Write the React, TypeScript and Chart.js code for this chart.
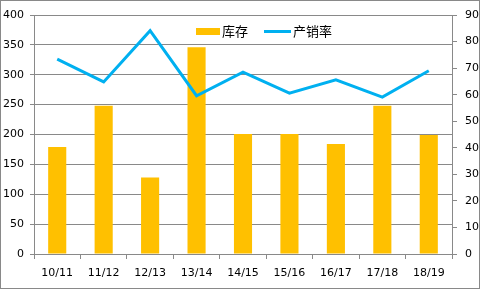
import React, { useEffect, useRef } from "react";
import { Chart, registerables } from "chart.js";

Chart.register(...registerables);

const categories = ["10/11", "11/12", "12/13", "13/14", "14/15", "15/16", "16/17", "17/18", "18/19"];
const inventory = [179, 248, 128, 346, 201, 201, 184, 248, 199];
const salesRate = [73.4, 64.8, 84.1, 59.6, 68.5, 60.6, 65.6, 59.1, 69.0];
const leftTicks = [0, 50, 100, 150, 200, 250, 300, 350, 400];
const rightTicks = [0, 10, 20, 30, 40, 50, 60, 70, 80, 90];

const BAR_COLOR = "#FFC000";
const LINE_COLOR = "#00B0F0";
const GRID = "#898989";
const FONT = "'DejaVu Sans', Verdana, sans-serif";

const overlayPlugin = {
  id: "overlay",
  afterDraw(chart: any) {
    const ctx = chart.ctx as CanvasRenderingContext2D;
    ctx.save();
    // outer border
    ctx.strokeStyle = GRID;
    ctx.lineWidth = 1;
    ctx.strokeRect(0.5, 0.5, 479, 288);
    // legend
    const y = 31;
    ctx.fillStyle = BAR_COLOR;
    ctx.fillRect(196, 28, 24, 7);
    ctx.fillStyle = "#000";
    ctx.font = "13px 'Noto Sans CJK SC', sans-serif";
    ctx.textBaseline = "middle";
    ctx.textAlign = "left";
    ctx.fillText(chart.data.datasets[1].label, 222, y);
    ctx.strokeStyle = LINE_COLOR;
    ctx.lineWidth = 3;
    ctx.beginPath();
    ctx.moveTo(264, y + 0.5);
    ctx.lineTo(291, y + 0.5);
    ctx.stroke();
    ctx.fillText(chart.data.datasets[0].label, 293, y);
    ctx.restore();
  },
};

export default function App() {
  const ref = useRef<HTMLCanvasElement>(null);
  useEffect(() => {
    document.body.style.margin = "0";
    const chart = new Chart(ref.current!, {
      type: "bar",
      data: {
        labels: categories,
        datasets: [
          {
            type: "line",
            label: "产销率",
            data: salesRate,
            borderColor: LINE_COLOR,
            backgroundColor: LINE_COLOR,
            borderWidth: 3,
            pointRadius: 0,
            tension: 0,
            yAxisID: "y1",
            order: 0,
          } as any,
          {
            type: "bar",
            label: "库存",
            data: inventory,
            backgroundColor: BAR_COLOR,
            barPercentage: 0.39,
            categoryPercentage: 1,
            yAxisID: "y",
            order: 1,
          },
        ],
      },
      options: {
        animation: false,
        responsive: false,
        layout: { padding: { top: 15, left: 0, right: 0, bottom: 0 } },
        plugins: { legend: { display: false }, tooltip: { enabled: false } },
        scales: {
          x: {
            offset: true,
            grid: { offset: true, drawOnChartArea: false, color: GRID, tickLength: 5 },
            border: { color: GRID },
            ticks: { color: "#000", font: { family: FONT, size: 11 }, padding: 8, maxRotation: 0 },
            afterFit: (s: any) => { s.height = 35; },
          },
          y: {
            position: "left",
            min: 0,
            max: 400,
            afterBuildTicks: (s: any) => { s.ticks = leftTicks.map((v) => ({ value: v })); },
            grid: { color: GRID, tickLength: 4 },
            border: { color: GRID },
            ticks: { color: "#000", font: { family: FONT, size: 11 }, padding: 6 },
            afterFit: (s: any) => { s.width = 34; },
          },
          y1: {
            position: "right",
            min: 0,
            max: 90,
            afterBuildTicks: (s: any) => { s.ticks = rightTicks.map((v) => ({ value: v })); },
            grid: { drawOnChartArea: false, color: GRID, tickLength: 5 },
            border: { color: GRID },
            ticks: { color: "#000", font: { family: FONT, size: 11 }, padding: 8 },
            afterFit: (s: any) => { s.width = 29; },
          },
        },
      },
      plugins: [overlayPlugin],
    });
    return () => chart.destroy();
  }, []);
  return (
    <div style={{ width: 481, height: 289, background: "#fff" }}>
      <canvas ref={ref} width={481} height={289} style={{ display: "block", width: 481, height: 289 }} />
    </div>
  );
}
